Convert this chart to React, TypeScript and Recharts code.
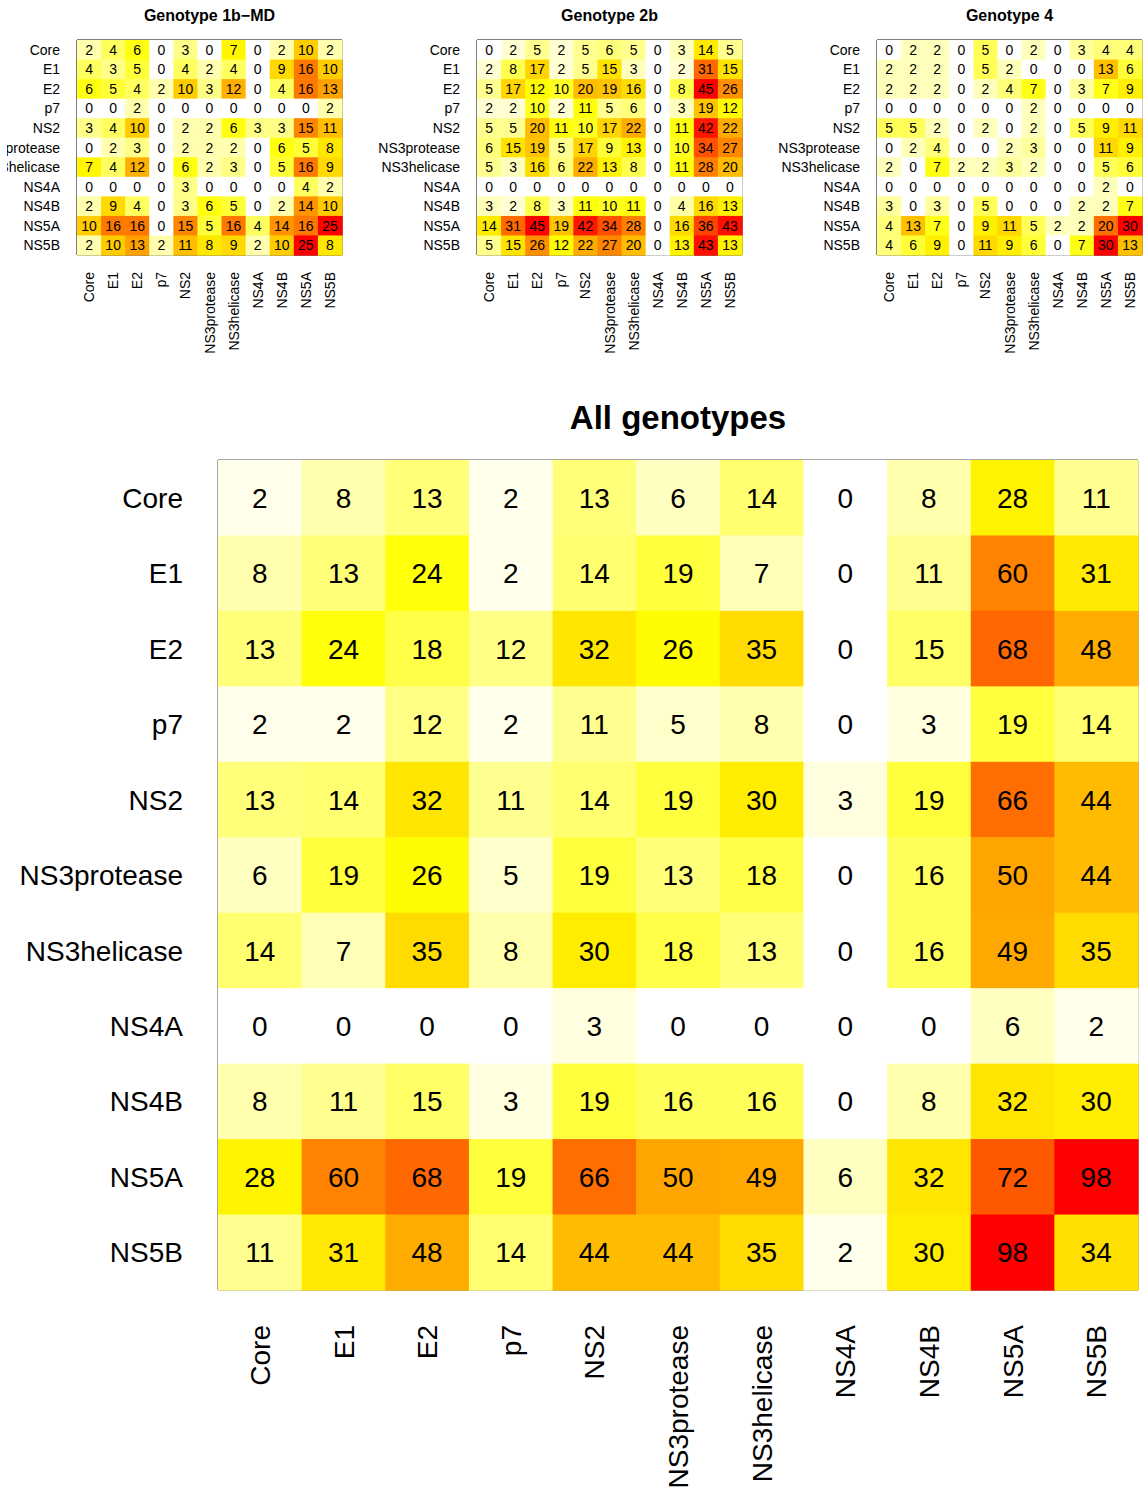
import React from "react";
import { ScatterChart, Scatter, XAxis, YAxis, ReferenceArea } from "recharts";

const genes = ["Core", "E1", "E2", "p7", "NS2", "NS3protease", "NS3helicase", "NS4A", "NS4B", "NS5A", "NS5B"];

const geno1bMD = [
  [2, 4, 6, 0, 3, 0, 7, 0, 2, 10, 2],
  [4, 3, 5, 0, 4, 2, 4, 0, 9, 16, 10],
  [6, 5, 4, 2, 10, 3, 12, 0, 4, 16, 13],
  [0, 0, 2, 0, 0, 0, 0, 0, 0, 0, 2],
  [3, 4, 10, 0, 2, 2, 6, 3, 3, 15, 11],
  [0, 2, 3, 0, 2, 2, 2, 0, 6, 5, 8],
  [7, 4, 12, 0, 6, 2, 3, 0, 5, 16, 9],
  [0, 0, 0, 0, 3, 0, 0, 0, 0, 4, 2],
  [2, 9, 4, 0, 3, 6, 5, 0, 2, 14, 10],
  [10, 16, 16, 0, 15, 5, 16, 4, 14, 16, 25],
  [2, 10, 13, 2, 11, 8, 9, 2, 10, 25, 8],
];

const geno2b = [
  [0, 2, 5, 2, 5, 6, 5, 0, 3, 14, 5],
  [2, 8, 17, 2, 5, 15, 3, 0, 2, 31, 15],
  [5, 17, 12, 10, 20, 19, 16, 0, 8, 45, 26],
  [2, 2, 10, 2, 11, 5, 6, 0, 3, 19, 12],
  [5, 5, 20, 11, 10, 17, 22, 0, 11, 42, 22],
  [6, 15, 19, 5, 17, 9, 13, 0, 10, 34, 27],
  [5, 3, 16, 6, 22, 13, 8, 0, 11, 28, 20],
  [0, 0, 0, 0, 0, 0, 0, 0, 0, 0, 0],
  [3, 2, 8, 3, 11, 10, 11, 0, 4, 16, 13],
  [14, 31, 45, 19, 42, 34, 28, 0, 16, 36, 43],
  [5, 15, 26, 12, 22, 27, 20, 0, 13, 43, 13],
];

const geno4 = [
  [0, 2, 2, 0, 5, 0, 2, 0, 3, 4, 4],
  [2, 2, 2, 0, 5, 2, 0, 0, 0, 13, 6],
  [2, 2, 2, 0, 2, 4, 7, 0, 3, 7, 9],
  [0, 0, 0, 0, 0, 0, 2, 0, 0, 0, 0],
  [5, 5, 2, 0, 2, 0, 2, 0, 5, 9, 11],
  [0, 2, 4, 0, 0, 2, 3, 0, 0, 11, 9],
  [2, 0, 7, 2, 2, 3, 2, 0, 0, 5, 6],
  [0, 0, 0, 0, 0, 0, 0, 0, 0, 2, 0],
  [3, 0, 3, 0, 5, 0, 0, 0, 2, 2, 7],
  [4, 13, 7, 0, 9, 11, 5, 2, 2, 20, 30],
  [4, 6, 9, 0, 11, 9, 6, 0, 7, 30, 13],
];

const genoAll = [
  [2, 8, 13, 2, 13, 6, 14, 0, 8, 28, 11],
  [8, 13, 24, 2, 14, 19, 7, 0, 11, 60, 31],
  [13, 24, 18, 12, 32, 26, 35, 0, 15, 68, 48],
  [2, 2, 12, 2, 11, 5, 8, 0, 3, 19, 14],
  [13, 14, 32, 11, 14, 19, 30, 3, 19, 66, 44],
  [6, 19, 26, 5, 19, 13, 18, 0, 16, 50, 44],
  [14, 7, 35, 8, 30, 18, 13, 0, 16, 49, 35],
  [0, 0, 0, 0, 3, 0, 0, 0, 0, 6, 2],
  [8, 11, 15, 3, 19, 16, 16, 0, 8, 32, 30],
  [28, 60, 68, 19, 66, 50, 49, 6, 32, 72, 98],
  [11, 31, 48, 14, 44, 44, 35, 2, 30, 98, 34],
];

const titles = ["Genotype 1b\u2212MD", "Genotype 2b", "Genotype 4", "All genotypes"];

const FONT = "'Liberation Sans', Arial, Helvetica, sans-serif";
const idx = genes.map((_, i) => i);

function heatColor(v: number, max: number): string {
  const f = max > 0 ? v / max : 0;
  let r = 255, g = 255, b = 255;
  if (f <= 0.255) {
    b = Math.round(255 * (1 - f / 0.255));
  } else if (f <= 0.51) {
    b = 0;
    g = Math.round(255 - 90 * ((f - 0.255) / 0.255));
  } else {
    b = 0;
    g = Math.round(165 * (1 - (f - 0.51) / 0.49));
  }
  return `rgb(${r},${g},${b})`;
}

type PanelCfg = {
  title: string;
  matrix: number[][];
  plotLeft: number;
  plotTop: number;
  plotW: number;
  plotH: number;
  bottomH: number;
  font: number;
  gap: number;
  titleSize: number;
  titleBase: number;
  stroke: string;
  clipLeft: number;
};

const panels: PanelCfg[] = [
  { title: titles[0], matrix: geno1bMD, plotLeft: 77, plotTop: 40, plotW: 265, plotH: 215, bottomH: 110, font: 14, gap: 17, titleSize: 16, titleBase: 21, stroke: "#000", clipLeft: 7 },
  { title: titles[1], matrix: geno2b, plotLeft: 477, plotTop: 40, plotW: 265, plotH: 215, bottomH: 110, font: 14, gap: 17, titleSize: 16, titleBase: 21, stroke: "#000", clipLeft: 0 },
  { title: titles[2], matrix: geno4, plotLeft: 877, plotTop: 40, plotW: 265, plotH: 215, bottomH: 110, font: 14, gap: 17, titleSize: 16, titleBase: 21, stroke: "#000", clipLeft: 0 },
  { title: titles[3], matrix: genoAll, plotLeft: 218, plotTop: 460, plotW: 920, plotH: 830, bottomH: 200, font: 28, gap: 35, titleSize: 33, titleBase: 429, stroke: "#555", clipLeft: 0 },
];

function Panel({ cfg }: { cfg: PanelCfg }) {
  const n = genes.length;
  const maxV = Math.max(...cfg.matrix.flat());
  const data: { x: number; y: number; v: number }[] = [];
  cfg.matrix.forEach((row, ri) => row.forEach((v, ci) => data.push({ x: ci, y: ri, v })));
  const cw = cfg.plotW / n;
  const ch = cfg.plotH / n;
  const width = cfg.plotLeft + cfg.plotW + 1;
  const height = cfg.plotTop + cfg.plotH + cfg.bottomH;

  const CellShape = (props: any) => {
    const { cx, cy, payload } = props;
    if (cx == null || cy == null) return null;
    return (
      <g>
        <rect x={cx - cw / 2} y={cy - ch / 2} width={cw + 0.6} height={ch + 0.6} fill={heatColor(payload.v, maxV)} stroke="none" />
        <text x={cx} y={cy} dy="0.36em" textAnchor="middle" fontFamily={FONT} fontSize={cfg.font} fill="#000">
          {payload.v}
        </text>
      </g>
    );
  };

  const RowTick = (props: any) => {
    const { y, payload } = props;
    return (
      <text x={cfg.plotLeft - cfg.gap} y={y} dy="0.36em" textAnchor="end" fontFamily={FONT} fontSize={cfg.font} fill="#000">
        {genes[payload.value]}
      </text>
    );
  };

  const ColTick = (props: any) => {
    const { x, payload } = props;
    const top = cfg.plotTop + cfg.plotH + cfg.gap;
    return (
      <text transform={`translate(${x},${top}) rotate(-90)`} dy="0.36em" textAnchor="end" fontFamily={FONT} fontSize={cfg.font} fill="#000">
        {genes[payload.value]}
      </text>
    );
  };

  return (
    <div style={{ position: "absolute", left: cfg.clipLeft, top: 0, width: width - cfg.clipLeft, height, overflow: "hidden" }}>
      <div style={{ position: "absolute", left: -cfg.clipLeft, top: 0, width, height }}>
        <ScatterChart width={width} height={height} margin={{ top: cfg.plotTop, right: 1, bottom: 0, left: 0 }}>
          <XAxis type="number" dataKey="x" domain={[-0.5, n - 0.5]} ticks={idx} interval={0} height={cfg.bottomH} axisLine={false} tickLine={false} tick={<ColTick />} />
          <YAxis type="number" dataKey="y" domain={[-0.5, n - 0.5]} ticks={idx} interval={0} reversed width={cfg.plotLeft} axisLine={false} tickLine={false} tick={<RowTick />} />
          <Scatter data={data} shape={CellShape} isAnimationActive={false} />
          <ReferenceArea x1={-0.5} x2={n - 0.5} y1={-0.5} y2={n - 0.5} fill="none" fillOpacity={0} stroke={cfg.stroke} strokeWidth={1} ifOverflow="visible" />
        </ScatterChart>
      </div>
    </div>
  );
}

export default function App() {
  return (
    <div style={{ position: "absolute", left: 0, top: 0, width: 1143, height: 1490, background: "#fff", overflow: "hidden" }}>
      {panels.map((p, i) => (
        <Panel key={i} cfg={p} />
      ))}
      <svg width={1143} height={1490} style={{ position: "absolute", left: 0, top: 0, pointerEvents: "none" }}>
        {panels.map((p, i) => (
          <text key={i} x={p.plotLeft + p.plotW / 2} y={p.titleBase} textAnchor="middle" fontFamily={FONT} fontWeight="bold" fontSize={p.titleSize} fill="#000">
            {p.title}
          </text>
        ))}
      </svg>
    </div>
  );
}
